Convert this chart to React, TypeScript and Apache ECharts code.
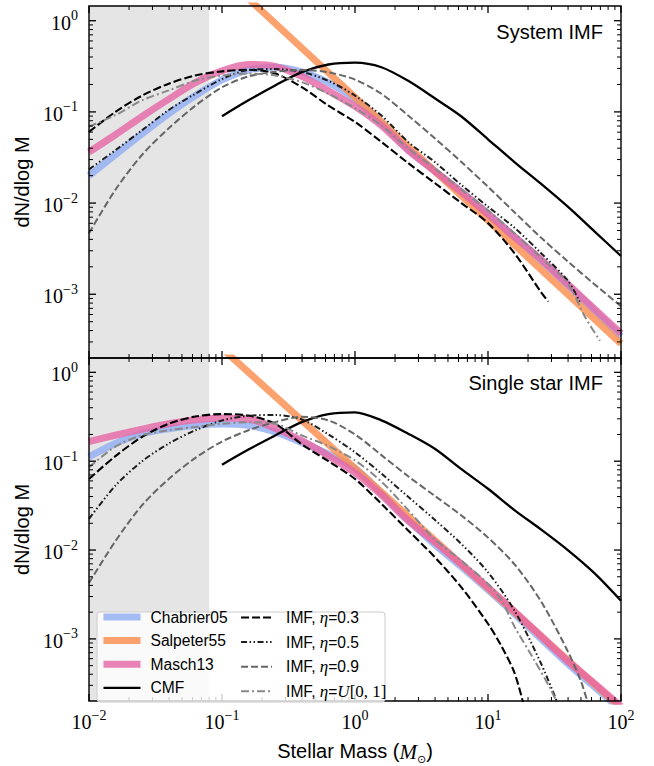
import React, { useEffect, useRef } from "react";
import * as echarts from "echarts";

// ---------- data ----------
// common mass grid (solar masses), 0.2 dex steps
const massGrid = [0.01, 0.0158, 0.0251, 0.0398, 0.0631, 0.1, 0.158, 0.251, 0.398, 0.631, 1, 1.58, 2.51, 3.98, 6.31, 10, 15.8, 25.1, 39.8, 63.1, 100];

// --- System IMF panel ---
const sysChabrier = [0.02, 0.0339, 0.0575, 0.0955, 0.151, 0.224, 0.288, 0.309, 0.275, 0.209, 0.138, 0.0759, 0.0389, 0.0224, 0.0132, 0.00759, 0.00427, 0.00234, 0.00126, 0.000661, 0.000347];
const sysMasch = [0.0363, 0.0562, 0.0891, 0.138, 0.209, 0.282, 0.331, 0.316, 0.245, 0.17, 0.115, 0.0708, 0.038, 0.0224, 0.0132, 0.00759, 0.00427, 0.0024, 0.00129, 0.000692, 0.000372];
const sysSalpeter = [[0.1, 3.24], [100, 0.000288]];
const sysCMF = [0.0897, 0.134, 0.195, 0.273, 0.331, 0.347, 0.309, 0.219, 0.141, 0.0891, 0.0501, 0.0282, 0.0162, 0.00912, 0.0049, 0.00263]; // from 0.1
const sysEta03 = [0.0603, 0.1, 0.151, 0.204, 0.251, 0.278, 0.29, 0.263, 0.187, 0.117, 0.0776, 0.0468, 0.0275, 0.0166, 0.01, 0.00603, 0.00282, 0.00105];
const sysEta03Tail = [[28.4, 0.000832]];
const sysEta05 = [0.0234, 0.038, 0.0631, 0.105, 0.158, 0.229, 0.288, 0.295, 0.275, 0.219, 0.151, 0.0912, 0.0468, 0.0282, 0.0158, 0.00912, 0.00537, 0.00282, 0.00141];
const sysEta05Tail = [[49.2, 0.000813]];
const sysEta09 = [0.00468, 0.014, 0.0339, 0.0661, 0.117, 0.186, 0.245, 0.275, 0.288, 0.272, 0.226, 0.158, 0.0912, 0.0513, 0.0282, 0.0151, 0.00794, 0.00417, 0.00229, 0.00129, 0.000741];
const sysEtaU = [0.0692, 0.092, 0.134, 0.172, 0.221, 0.251, 0.263, 0.251, 0.212, 0.158, 0.11, 0.0708, 0.0398, 0.024, 0.0141, 0.00832, 0.00468, 0.00251, 0.00132];
const sysEtaUTail = [[53.7, 0.000562], [69.5, 0.000309]];

// --- Single star IMF panel ---
const sinChabrier = [0.112, 0.158, 0.204, 0.232, 0.253, 0.263, 0.253, 0.214, 0.162, 0.12, 0.0832, 0.0437, 0.0219, 0.0115, 0.00646, 0.00355, 0.00191, 0.001, 0.000525, 0.000288, 0.000158];
const sinMasch = [0.166, 0.196, 0.229, 0.264, 0.292, 0.307, 0.299, 0.234, 0.17, 0.115, 0.0741, 0.0417, 0.0214, 0.0123, 0.00692, 0.0038, 0.00204, 0.00107, 0.000562, 0.000316, 0.000174];
const sinSalpeter = [[0.1, 1.86], [100, 0.000166]];
const sinCMF = [0.0912, 0.135, 0.195, 0.275, 0.339, 0.355, 0.288, 0.204, 0.138, 0.0813, 0.049, 0.0282, 0.017, 0.01, 0.0055, 0.00269]; // from 0.1
const sinEta03 = [0.0631, 0.114, 0.188, 0.264, 0.318, 0.339, 0.326, 0.264, 0.155, 0.1, 0.0631, 0.0331, 0.0166, 0.00832, 0.0038, 0.00148];
const sinEta03Tail = [[12.6, 0.000832], [15.8, 0.000417], [18.6, 0.000178]];
const sinEta05 = [0.0224, 0.0531, 0.1, 0.158, 0.223, 0.287, 0.324, 0.331, 0.295, 0.2, 0.126, 0.0724, 0.0398, 0.0219, 0.0117, 0.00562, 0.00209, 0.000525];
const sinEta05Tail = [[33.9, 0.000178]];
const sinEta09 = [0.00427, 0.0126, 0.032, 0.0631, 0.109, 0.166, 0.223, 0.275, 0.316, 0.288, 0.2, 0.117, 0.0676, 0.0407, 0.0245, 0.0138, 0.00692, 0.00263, 0.000724];
const sinEta09Tail = [[50.1, 0.000331], [56.2, 0.000191]];
const sinEtaU = [0.0851, 0.146, 0.196, 0.223, 0.243, 0.263, 0.275, 0.263, 0.195, 0.148, 0.102, 0.0589, 0.0282, 0.0132, 0.00759, 0.00417];
const sinEtaUTail = [[12.6, 0.00275], [15.8, 0.00138], [21.9, 0.000603], [29.2, 0.000282], [33.1, 0.000191]];

// axis / tick values
const xRange = [0.01, 100];
const yRange = [0.0002, 1.45];
const xMajorTicks = [0.01, 0.1, 1, 10, 100];
const yMajorTicks = [0.001, 0.01, 0.1, 1];
const xDecades = [0.01, 0.1, 1, 10];
const yDecades = [0.0001, 0.001, 0.01, 0.1];
const minorMultipliers = [2, 3, 4, 5, 6, 7, 8, 9];
const shadedRange = [0.01, 0.08];

const seriesNames = ["Chabrier05", "Salpeter55", "Masch13", "CMF", "IMF, η=0.3", "IMF, η=0.5", "IMF, η=0.9", "IMF, η=U[0, 1]"];
const panelTitles = ["System IMF", "Single star IMF"];

// ---------- helpers ----------
function zip(values: number[], start = 0, tail: number[][] = []) {
  const out: number[][] = values.map((v, i) => [massGrid[start + i], v]);
  return out.concat(tail);
}

const styles: Record<string, any> = {
  "Chabrier05": { color: "#91aef2", width: 7, opacity: 0.82, type: "solid", z: 3 },
  "Salpeter55": { color: "#fa8e4f", width: 7, opacity: 0.82, type: "solid", z: 4 },
  "Masch13": { color: "#e568a6", width: 7, opacity: 0.82, type: "solid", z: 5 },
  "CMF": { color: "#000000", width: 2.3, opacity: 1, type: "solid", z: 6 },
  "IMF, η=0.3": { color: "#000000", width: 2.1, opacity: 1, type: [8, 3], z: 7 },
  "IMF, η=0.5": { color: "#1e1e1e", width: 2, opacity: 1, type: [6, 2.5, 1.5, 2.5, 1.5, 2.5], z: 7 },
  "IMF, η=0.9": { color: "#666666", width: 2, opacity: 1, type: [7, 3], z: 7 },
  "IMF, η=U[0, 1]": { color: "#888888", width: 2, opacity: 1, type: [8, 3, 2, 3], z: 7 },
};

const panels = [
  {
    "Chabrier05": zip(sysChabrier),
    "Salpeter55": sysSalpeter,
    "Masch13": zip(sysMasch),
    "CMF": zip(sysCMF, 5),
    "IMF, η=0.3": zip(sysEta03, 0, sysEta03Tail),
    "IMF, η=0.5": zip(sysEta05, 0, sysEta05Tail),
    "IMF, η=0.9": zip(sysEta09),
    "IMF, η=U[0, 1]": zip(sysEtaU, 0, sysEtaUTail),
  },
  {
    "Chabrier05": zip(sinChabrier),
    "Salpeter55": sinSalpeter,
    "Masch13": zip(sinMasch),
    "CMF": zip(sinCMF, 5),
    "IMF, η=0.3": zip(sinEta03, 0, sinEta03Tail),
    "IMF, η=0.5": zip(sinEta05, 0, sinEta05Tail),
    "IMF, η=0.9": zip(sinEta09, 0, sinEta09Tail),
    "IMF, η=U[0, 1]": zip(sinEtaU, 0, sinEtaUTail),
  },
];

function minorTicks(decades: number[], range: number[]) {
  const out: number[] = [];
  decades.forEach((d) => minorMultipliers.forEach((m) => {
    const v = +(d * m).toPrecision(6);
    if (v > range[0] && v < range[1]) out.push(v);
  }));
  return out;
}

const SERIF = "'Liberation Serif', 'DejaVu Serif', serif";
const SANS = "'Liberation Sans', Arial, sans-serif";

function powLabel(v: number) {
  const e = Math.log10(v);
  const r = Math.round(e);
  if (Math.abs(e - r) > 1e-6) return "";
  const exp = r < 0 ? "\u2212" + Math.abs(r) : String(r);
  return "{b|10}{e|" + exp + "}";
}

const powRich = {
  b: { fontFamily: SERIF, fontSize: 20, lineHeight: 24, verticalAlign: "bottom", color: "#000" },
  e: { fontFamily: SERIF, fontSize: 14, lineHeight: 14, verticalAlign: "top", color: "#000" },
};

export default function App() {
  const ref = useRef<HTMLDivElement>(null);

  useEffect(() => {
    document.body.style.margin = "0";
    if (!ref.current) return;
    const chart = echarts.init(ref.current, undefined, { renderer: "svg" });

    const grids = [
      { left: 89, top: 6, width: 532, height: 352 },
      { left: 89, top: 358, width: 532, height: 353 },
    ].map((g) => ({ ...g, show: true, z: 20, borderColor: "#000", borderWidth: 1.4, backgroundColor: "transparent" }));

    const xAxes = [0, 1].map((i) => ({
      type: "log",
      logBase: 10,
      gridIndex: i,
      min: xRange[0],
      max: xRange[1],
      axisLine: { show: false },
      axisTick: { show: false },
      splitLine: { show: false },
      axisLabel: i === 1
        ? { show: true, margin: 7, formatter: powLabel, rich: powRich, showMinLabel: true, showMaxLabel: true }
        : { show: false },
      name: i === 1 ? "{s|Stellar Mass (}{m|M}{o|\u2299}{s|)}" : "",
      nameLocation: "middle",
      nameGap: 40,
      nameTextStyle: {
        rich: {
          s: { fontFamily: SANS, fontSize: 20, lineHeight: 24, verticalAlign: "top", color: "#000" },
          m: { fontFamily: SERIF, fontStyle: "italic", fontSize: 21, lineHeight: 24, verticalAlign: "top", color: "#000" },
          o: { fontFamily: "'DejaVu Sans', sans-serif", fontSize: 11, lineHeight: 13, verticalAlign: "bottom", color: "#000" },
        },
      },
    }));

    const yAxes = [0, 1].map((i) => ({
      type: "log",
      logBase: 10,
      gridIndex: i,
      min: yRange[0],
      max: yRange[1],
      axisLine: { show: false },
      axisTick: { show: false },
      splitLine: { show: false },
      axisLabel: { show: true, margin: 11, formatter: powLabel, rich: powRich, showMinLabel: false, showMaxLabel: false },
      name: "dN/dlog M",
      nameLocation: "middle",
      nameRotate: 90,
      nameGap: 52,
      nameTextStyle: { fontFamily: SANS, fontSize: 20, color: "#000" },
    }));

    const xTickData = [
      ...xMajorTicks.map((v) => [v, 1, 1]),
      ...minorTicks(xDecades, xRange).map((v) => [v, 1, 0]),
    ];
    const yTickData = [
      ...yMajorTicks.map((v) => [1, v, 1]),
      ...minorTicks(yDecades, yRange).map((v) => [1, v, 0]),
    ];

    const series: any[] = [];
    [0, 1].forEach((p) => {
      // shaded region (below everything)
      series.push({
        type: "line",
        name: "shade" + p,
        xAxisIndex: p,
        yAxisIndex: p,
        data: [],
        z: 1,
        silent: true,
        markArea: {
          silent: true,
          itemStyle: { color: "#e5e5e5", opacity: 1 },
          data: [[{ xAxis: shadedRange[0] }, { xAxis: shadedRange[1] }]],
        },
      });
      seriesNames.forEach((name) => {
        const st = styles[name];
        series.push({
          type: "line",
          name,
          xAxisIndex: p,
          yAxisIndex: p,
          data: (panels[p] as any)[name],
          smooth: 0.3,
          symbol: "none",
          showSymbol: false,
          clip: true,
          z: st.z,
          itemStyle: { color: st.color, opacity: st.opacity },
          lineStyle: { color: st.color, width: st.width, type: st.type, opacity: st.opacity, cap: "butt" },
          emphasis: { disabled: true },
        });
      });
      // x ticks (bottom + top, pointing inward)
      series.push({
        type: "custom",
        name: "xticks" + p,
        xAxisIndex: p,
        yAxisIndex: p,
        z: 30,
        silent: true,
        clip: false,
        data: xTickData,
        renderItem: (params: any, api: any) => {
          const cs = params.coordSys;
          const x = api.coord([api.value(0), api.value(1)])[0];
          const major = api.value(2) === 1;
          const len = major ? 7 : 4;
          const style = { stroke: "#000", lineWidth: major ? 1.3 : 1 };
          return {
            type: "group",
            children: [
              { type: "line", shape: { x1: x, y1: cs.y + cs.height, x2: x, y2: cs.y + cs.height - len }, style },
              { type: "line", shape: { x1: x, y1: cs.y, x2: x, y2: cs.y + len }, style },
            ],
          };
        },
      });
      // y ticks (left + right, pointing inward)
      series.push({
        type: "custom",
        name: "yticks" + p,
        xAxisIndex: p,
        yAxisIndex: p,
        z: 30,
        silent: true,
        clip: false,
        data: yTickData,
        renderItem: (params: any, api: any) => {
          const cs = params.coordSys;
          const y = api.coord([api.value(0), api.value(1)])[1];
          const major = api.value(2) === 1;
          const len = major ? 7 : 4;
          const style = { stroke: "#000", lineWidth: major ? 1.3 : 1 };
          return {
            type: "group",
            children: [
              { type: "line", shape: { x1: cs.x, y1: y, x2: cs.x + len, y2: y }, style },
              { type: "line", shape: { x1: cs.x + cs.width, y1: y, x2: cs.x + cs.width - len, y2: y }, style },
            ],
          };
        },
      });
    });

    const legendCommon = {
      orient: "vertical",
      top: 609,
      padding: 0,
      itemHeight: 14,
      itemGap: 7.6,
      selectedMode: false,
      z: 100,
      lineStyle: { width: "inherit", type: "inherit", opacity: "inherit" },
      itemStyle: { opacity: 0, borderWidth: 0 },
    };

    const legendRich = {
      t: { fontFamily: SANS, fontSize: 15.6, lineHeight: 14, color: "#000" },
      i: { fontFamily: SERIF, fontStyle: "italic", fontSize: 17, lineHeight: 14, color: "#000" },
      r: { fontFamily: SERIF, fontSize: 17, lineHeight: 14, color: "#000" },
    };

    const option: any = {
      animation: false,
      backgroundColor: "#ffffff",
      grid: grids,
      xAxis: xAxes,
      yAxis: yAxes,
      legend: [
        {
          ...legendCommon,
          left: 100,
          itemWidth: 37,
          data: seriesNames.slice(0, 4),
          textStyle: { fontFamily: SANS, fontSize: 15.6, color: "#000", lineHeight: 14, padding: [0, 0, 0, 5] },
        },
        {
          ...legendCommon,
          left: 240,
          itemWidth: 31,
          data: seriesNames.slice(4),
          formatter: (name: string) => {
            const rest = name.replace("IMF, η=", "");
            if (rest.startsWith("U")) {
              return "{t|IMF, }{i|η}{t|=}{i|U}{r|" + rest.slice(1) + "}";
            }
            return "{t|IMF, }{i|η}{t|=" + rest + "}";
          },
          textStyle: { fontFamily: SANS, fontSize: 15.6, color: "#000", lineHeight: 14, padding: [0, 0, 0, 9], rich: legendRich },
        },
      ],
      graphic: [
        {
          type: "rect",
          z: 90,
          silent: true,
          shape: { x: 97, y: 612, width: 288, height: 90, r: 3 },
          style: { fill: "rgba(255,255,255,0.8)", stroke: "#cccccc", lineWidth: 1 },
        },
        {
          type: "text",
          z: 90,
          x: 603,
          y: 32,
          style: { text: panelTitles[0], fontFamily: SANS, fontSize: 20, fill: "#000", align: "right", verticalAlign: "middle" },
        },
        {
          type: "text",
          z: 90,
          x: 603,
          y: 383,
          style: { text: panelTitles[1], fontFamily: SANS, fontSize: 20, fill: "#000", align: "right", verticalAlign: "middle" },
        },
      ],
      series,
    };

    chart.setOption(option);
    return () => chart.dispose();
  }, []);

  return <div ref={ref} style={{ width: 654, height: 766 }} />;
}
